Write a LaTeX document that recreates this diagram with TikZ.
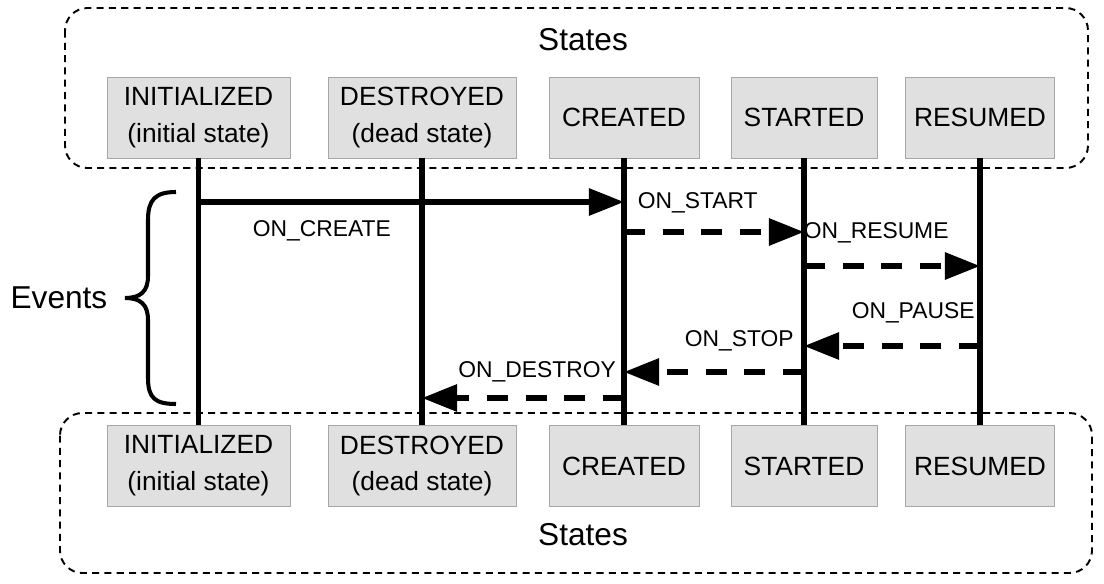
\documentclass[tikz,border=0pt]{standalone}
\usepackage{fontspec}
\setmainfont{Liberation Sans}
\usetikzlibrary{arrows.meta,positioning}

\begin{document}
\begin{tikzpicture}[
	state/.style={draw=black!35,fill=black!12,align=center,inner sep=0pt,minimum height=1.62cm,font=\fontsize{15}{21}\selectfont},
	group/.style={draw,line width=1.1pt,rounded corners=0.45cm,dash pattern=on 4pt off 3pt},
	life/.style={line width=3pt},
	evt/.style={line width=3pt,-{Triangle[length=20pt,width=15pt]}},
	evtd/.style={evt,dash pattern=on 12pt off 10pt},
	lbl/.style={font=\fontsize{13}{15}\selectfont},
	title/.style={font=\fontsize{18}{21}\selectfont}]
		\useasboundingbox (0,0) rectangle (22.08,-11.66);
		% dashed groups of states
		\draw[group] (1.3,-0.16) rectangle (21.76,-3.36);
		\draw[group] (1.2,-8.26) rectangle (21.84,-11.46);
		\node[title] (st1) at (11.66,-0.8) {States};
		\node[title] (st2) at (11.66,-10.7) {States};
		% top row
		\node[state,minimum width=3.66cm] (init1) at (3.97,-2.35) {INITIALIZED\\(initial state)};
		\node[state,minimum width=3.76cm] (dest1) at (8.44,-2.35) {DESTROYED\\(dead state)};
		\node[state,minimum width=3.0cm] (creat1) at (12.48,-2.35) {CREATED};
		\node[state,minimum width=2.92cm] (start1) at (16.08,-2.35) {STARTED};
		\node[state,minimum width=2.98cm] (resum1) at (19.6,-2.35) {RESUMED};
		% bottom row
		\node[state,minimum width=3.66cm] (init2) at (3.97,-9.32) {INITIALIZED\\(initial state)};
		\node[state,minimum width=3.76cm] (dest2) at (8.44,-9.32) {DESTROYED\\(dead state)};
		\node[state,minimum width=3.0cm] (creat2) at (12.48,-9.32) {CREATED};
		\node[state,minimum width=2.92cm] (start2) at (16.08,-9.32) {STARTED};
		\node[state,minimum width=2.98cm] (resum2) at (19.6,-9.32) {RESUMED};
		\foreach \s in {init,dest,creat,start,resum}
			\draw[life] (\s1) -- (\s2);
		% events
		\coordinate (e1) at (init1.south |- 0,-4.04);
		\coordinate (e2) at (creat1.south |- 0,-4.64);
		\coordinate (e3) at (start1.south |- 0,-5.32);
		\coordinate (e4) at (resum1.south |- 0,-6.92);
		\coordinate (e5) at (start1.south |- 0,-7.44);
		\coordinate (e6) at (creat1.south |- 0,-7.96);
		\draw[evt] (e1) -- node[lbl,below=6pt,pos=0.29] (l1) {ON\_CREATE} (creat1.south |- e1);
		\draw[evtd] (e2) -- node[lbl,above=6pt,pos=0.41] (l2) {ON\_START} (start1.south |- e2);
		\draw[evtd] (e3) -- node[lbl,above=8pt,pos=0.41] (l3) {ON\_RESUME} (resum1.south |- e3);
		\draw[evtd] (e4) -- node[lbl,above=8pt,pos=0.38] (l4) {ON\_PAUSE} (start1.south |- e4);
		\draw[evtd] (e5) -- node[lbl,above=7pt,pos=0.36] (l5) {ON\_STOP} (creat1.south |- e5);
		\draw[evtd] (e6) -- node[lbl,above=4pt,pos=0.43] (l6) {ON\_DESTROY} (dest1.south |- e6);
		% brace
		\draw[line width=2.3pt] (3.52,-3.84) .. controls (3.1,-3.84) and (2.96,-4.0) .. (2.96,-4.4) -- (2.96,-5.52) .. controls (2.96,-5.84) and (2.8,-5.96) .. (2.5,-5.96) .. controls (2.8,-5.96) and (2.96,-6.08) .. (2.96,-6.4) -- (2.96,-7.56) .. controls (2.96,-7.96) and (3.1,-8.08) .. (3.52,-8.08);
		\node[title,anchor=east] (ev) at (2.27,-5.96) {Events};
\end{tikzpicture}
\end{document}
